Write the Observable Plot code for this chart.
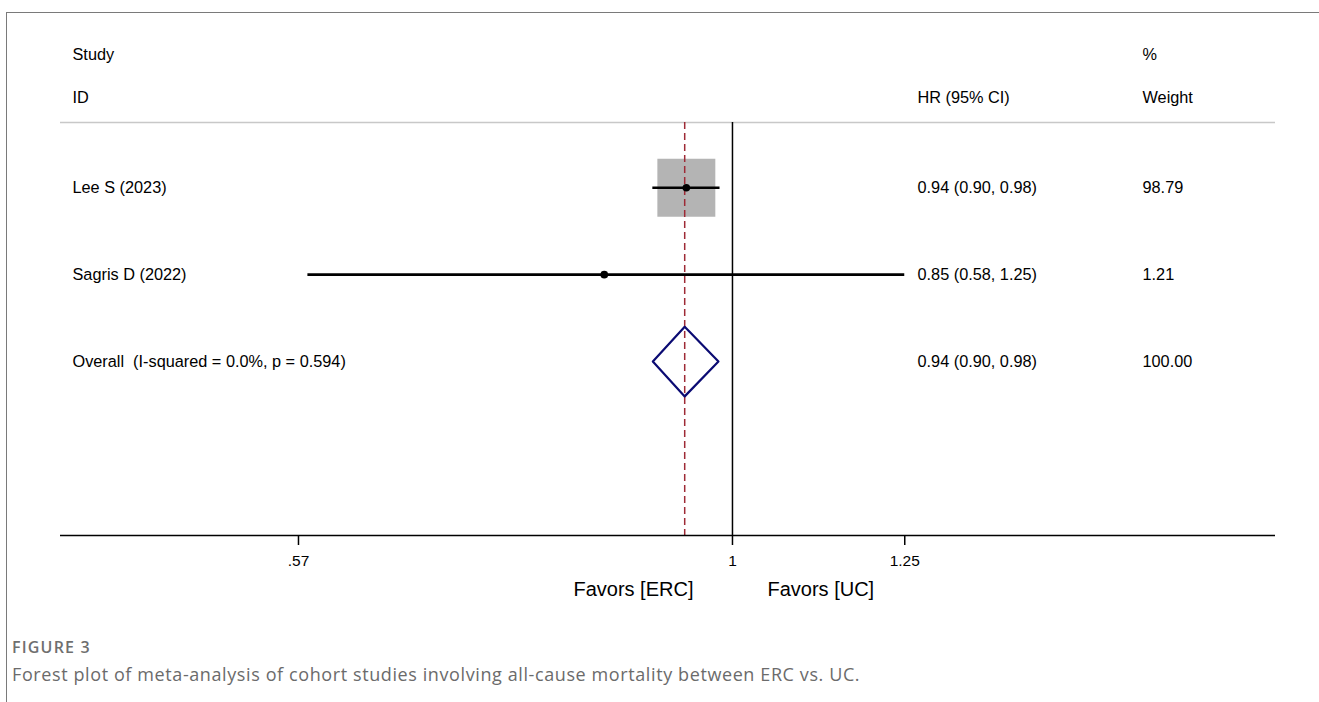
<!DOCTYPE html>
<html>
<head>
<meta charset="utf-8">
<script src="https://cdn.jsdelivr.net/npm/d3@7"></script>
<script src="https://cdn.jsdelivr.net/npm/@observablehq/plot@0.6"></script>
<style>
  html, body { margin: 0; padding: 0; background: #fff; width: 1319px; height: 702px; overflow: hidden; }
  #border { position: absolute; left: 6px; top: 12px; width: 1400px; height: 800px;
            border-top: 1px solid #7a7a7a; border-left: 1px solid #7a7a7a; }
  #chart { position: absolute; left: 0; top: 0; }
  #caption { position: absolute; left: 12px; top: 637px; font-family: "Open Sans", "Noto Sans", sans-serif; color: #6b6b6b; }
  #caption .fig { font-size: 16px; font-weight: 600; letter-spacing: 1.2px; line-height: 20px; color: #6f6f6f; }
  #caption .txt { font-size: 18px; letter-spacing: 0.6px; line-height: 26px; margin-top: 4px; }
</style>
</head>
<body>
<div id="border"></div>
<div id="chart"></div>
<div id="caption">
  <div class="fig">FIGURE 3</div>
  <div class="txt">Forest plot of meta-analysis of cohort studies involving all-cause mortality between ERC vs. UC.</div>
</div>
<script>
// ---- data ----
const studyLabels = ["Lee S (2023)", "Sagris D (2022)"];
const studyHR = [0.942, 0.847];
const studyLo = [0.902, 0.577];
const studyHi = [0.984, 1.25];
const studyWeights = [98.79, 1.21];
const studyHRText = ["0.94 (0.90, 0.98)", "0.85 (0.58, 1.25)"];
const studyWeightText = ["98.79", "1.21"];

const overallLabel = "Overall  (I-squared = 0.0%, p = 0.594)";
const overallHR = 0.94;
const overallLo = 0.902;
const overallHi = 0.982;
const overallHRText = "0.94 (0.90, 0.98)";
const overallWeightText = "100.00";

const tickValues = [0.57, 1, 1.25];
const tickLabels = [".57", "1", "1.25"];
const nullHR = 1;
const favorLabels = ["Favors [ERC]", "Favors [UC]"];
const headerTop = ["Study", "%"];
const headerBottom = ["ID", "HR (95% CI)", "Weight"];

// ---- derived tables ----
const studies = studyLabels.map((s, i) => ({
  row: i + 1, study: s, hr: studyHR[i], lo: studyLo[i], hi: studyHi[i],
  w: studyWeights[i], hrText: studyHRText[i], wText: studyWeightText[i]
}));
const overallRow = studies.length + 1;
const textRows = [
  ...studies.map(d => ({row: d.row, study: d.study, hrText: d.hrText, wText: d.wText})),
  {row: overallRow, study: overallLabel, hrText: overallHRText, wText: overallWeightText}
];
const diamondHalf = 0.4;
const diamond = [
  {x: overallLo, y: overallRow},
  {x: overallHR, y: overallRow - diamondHalf},
  {x: overallHi, y: overallRow},
  {x: overallHR, y: overallRow + diamondHalf},
  {x: overallLo, y: overallRow}
];
const ticks = tickValues.map((v, i) => ({v, label: tickLabels[i]}));
const yDomain = [0.25, 5];

const font = "'Liberation Sans', Arial, Helvetica, sans-serif";
const colHR = 857, colW = 1082, colStudy = 12;
const fs = 16.3;

const chart = Plot.plot({
  width: 1319,
  height: 615,
  marginLeft: 60,
  marginRight: 44,
  marginTop: 122,
  marginBottom: 80,
  style: {fontFamily: font, fontSize: "16px", color: "#000", background: "transparent"},
  x: {type: "log", domain: [0.4188, 2.0205]},
  y: {domain: yDomain, reverse: true, axis: null},
  r: {type: "sqrt", domain: [0, d3.max(studyWeights)], range: [0, 32.7]},
  marks: [
    // header separator
    Plot.ruleY([yDomain[0]], {stroke: "#c8c8c8", strokeWidth: 1.5}),
    // weight boxes
    Plot.dot(studies, {x: "hr", y: "row", r: "w", symbol: "square", fill: "#b4b4b4", stroke: null}),
    // reference lines
    Plot.ruleX([nullHR], {stroke: "#000", strokeWidth: 1.5}),
    Plot.ruleX([overallHR], {stroke: "#9e2a36", strokeWidth: 1.5, strokeDasharray: "7,4"}),
    // CIs
    Plot.ruleY(studies, {y: "row", x1: "lo", x2: "hi", stroke: "#000", strokeWidth: 2.6}),
    Plot.dot(studies, {x: "hr", y: "row", r: 3.8, fill: "#000", stroke: null}),
    // overall diamond
    Plot.line(diamond, {x: "x", y: "y", stroke: "#0b0b73", strokeWidth: 2.2, curve: "linear"}),
    // axis line + ticks + labels
    Plot.ruleY([yDomain[1]], {stroke: "#000", strokeWidth: 1.5}),
    Plot.axisX(tickValues, {anchor: "bottom", tickSize: 10, tickFormat: () => "", stroke: "#000", strokeWidth: 1.5, label: null}),
    Plot.text(ticks, {x: "v", text: "label", frameAnchor: "bottom", dy: 30, fontSize: 15.5}),
    // favors labels
    Plot.text([favorLabels[0]], {x: [nullHR], frameAnchor: "bottom", dy: 60, dx: -39, textAnchor: "end", fontSize: 20}),
    Plot.text([favorLabels[1]], {x: [nullHR], frameAnchor: "bottom", dy: 60, dx: 35, textAnchor: "start", fontSize: 20}),
    // table text
    Plot.text(textRows, {y: "row", text: "study", frameAnchor: "left", dx: colStudy, textAnchor: "start", fontSize: fs}),
    Plot.text(textRows, {y: "row", text: "hrText", frameAnchor: "left", dx: colHR, textAnchor: "start", fontSize: fs}),
    Plot.text(textRows, {y: "row", text: "wText", frameAnchor: "left", dx: colW, textAnchor: "start", fontSize: fs}),
    // headers
    Plot.text([headerTop[0]], {frameAnchor: "top-left", dx: colStudy, dy: -74, textAnchor: "start", fontSize: fs}),
    Plot.text([headerTop[1]], {frameAnchor: "top-left", dx: colW, dy: -74, textAnchor: "start", fontSize: fs}),
    Plot.text([headerBottom[0]], {frameAnchor: "top-left", dx: colStudy, dy: -31, textAnchor: "start", fontSize: fs}),
    Plot.text([headerBottom[1]], {frameAnchor: "top-left", dx: colHR, dy: -31, textAnchor: "start", fontSize: fs}),
    Plot.text([headerBottom[2]], {frameAnchor: "top-left", dx: colW, dy: -31, textAnchor: "start", fontSize: fs})
  ]
});
document.getElementById("chart").appendChild(chart);
</script>
</body>
</html>
